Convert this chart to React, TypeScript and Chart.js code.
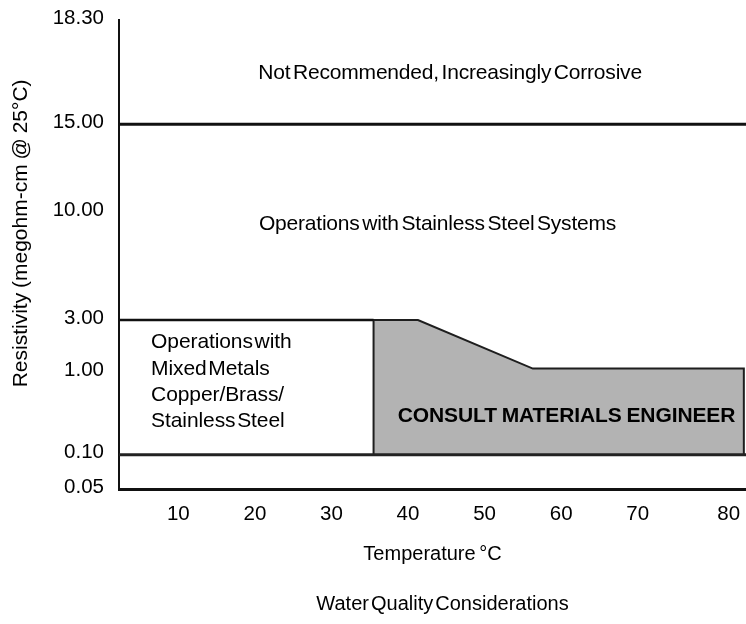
import React, { useEffect, useRef } from 'react';
import { Chart, LinearScale, registerables } from 'chart.js';

// ---------- data ----------
const temperatureTicks = [10, 20, 30, 40, 50, 60, 70, 80];
const resistivityTicks = [0.05, 0.1, 1, 3, 10, 15, 18.3];
const temperatureRange = [2.3, 84];

const corrosiveLimit = 15; // above: not recommended
const mixedMetalsLimit = 3; // top of mixed-metals zone
const lowerLimit = 0.1; // bottom of operating zones
const mixedMetalsEndTemp = 35.5;

const consultTemps = [35.5, 35.5, 41.3, 56.3, 83.5, 83.5];
const consultResistivity = [0.1, 3, 3, 1.15, 1.15, 0.1];

const zoneNotes = [
  { text: 'Not Recommended, Increasingly Corrosive', at: [45.5, 16.43], bold: false },
  { text: 'Operations with Stainless Steel Systems', at: [43.85, 8.87], bold: false },
  { text: 'CONSULT MATERIALS ENGINEER', at: [60.7, 0.461], bold: true },
];
const mixedNoteLines = ['Operations with', 'Mixed Metals', 'Copper/Brass/', 'Stainless Steel'];
const mixedNoteAnchor = [6.47, 1.92];

const xTitle = 'Temperature °C';
const yTitle = 'Resistivity (megohm-cm @ 25°C)';
const chartTitle = 'Water Quality Considerations';

// ---------- irregular axis geometry (fraction of axis length per knot) ----------
const AXIS_KNOTS: Record<string, { vals: number[]; fracs: number[] }> = {
  x: { vals: [temperatureRange[0], 10, 70, 80, temperatureRange[1]], fracs: [0, 0.0946, 0.8273, 0.9724, 1] },
  y: { vals: resistivityTicks, fracs: [0, 0.0731, 0.2484, 0.3603, 0.5891, 0.7776, 1] },
};
const AXIS_TICKS: Record<string, number[]> = { x: temperatureTicks, y: resistivityTicks };

function interp(src: number[], dst: number[], v: number) {
  const n = src.length;
  let i = 0;
  if (v <= src[0]) i = 0;
  else if (v >= src[n - 1]) i = n - 2;
  else {
    while (i < n - 2 && v > src[i + 1]) i++;
  }
  const t = (v - src[i]) / (src[i + 1] - src[i]);
  return dst[i] + t * (dst[i + 1] - dst[i]);
}

class PiecewiseScale extends LinearScale {
  static id = 'piecewise';
  static defaults = {};
  buildTicks() {
    return (AXIS_TICKS[(this as any).id] || []).map((v) => ({ value: v }));
  }
  getPixelForValue(value: any) {
    if (value === null || value === undefined || isNaN(value)) return NaN;
    const k = AXIS_KNOTS[(this as any).id];
    return (this as any).getPixelForDecimal(interp(k.vals, k.fracs, value));
  }
  getValueForPixel(pixel: number) {
    const k = AXIS_KNOTS[(this as any).id];
    return interp(k.fracs, k.vals, (this as any).getDecimalForPixel(pixel));
  }
}

const FONT = '"Liberation Sans", Arial, Helvetica, sans-serif';
const INK = '#000000';

type TextOpts = {
  size: number;
  bold?: boolean;
  align: string;
  ls: number;
  ws: number;
  rotate?: number;
};

const textPlugin = {
  id: 'zoneText',
  beforeDraw(chart: any) {
    const ctx = chart.ctx as any;
    ctx.wordSpacing = '0px';
    ctx.letterSpacing = '0px';
  },
  afterDatasetsDraw(chart: any) {
    const ctx = chart.ctx as any;
    const x = chart.scales.x;
    const y = chart.scales.y;
    const draw = (text: string, px: number, py: number, o: TextOpts) => {
      ctx.save();
      ctx.font = `${o.bold ? 'bold ' : ''}${o.size}px ${FONT}`;
      ctx.fillStyle = INK;
      ctx.textAlign = o.align;
      ctx.textBaseline = 'alphabetic';
      ctx.wordSpacing = `${o.ws}px`;
      ctx.letterSpacing = `${o.ls}px`;
      ctx.translate(px, py);
      if (o.rotate) ctx.rotate(o.rotate);
      ctx.fillText(text, 0, 0);
      ctx.restore();
    };
    zoneNotes.forEach((n) => {
      draw(n.text, x.getPixelForValue(n.at[0]), y.getPixelForValue(n.at[1]), {
        size: 21,
        bold: n.bold,
        align: 'center',
        ls: n.bold ? -0.1 : -0.2,
        ws: n.bold ? -1 : -3,
      });
    });
    const mx = x.getPixelForValue(mixedNoteAnchor[0]);
    const my = y.getPixelForValue(mixedNoteAnchor[1]);
    mixedNoteLines.forEach((line, i) => {
      draw(line, mx, my + i * 26.2, { size: 21, align: 'left', ls: -0.1, ws: -4 });
    });
    const ca = chart.chartArea;
    draw(xTitle, (ca.left + ca.right) / 2, ca.bottom + 71, { size: 20, align: 'center', ls: 0, ws: -2 });
    draw(chartTitle, (ca.left + ca.right) / 2 + 10, ca.bottom + 121, { size: 20, align: 'center', ls: 0, ws: -3.5 });
    draw(yTitle, 26.7, ca.top + 0.455 * (ca.bottom - ca.top), {
      size: 21,
      align: 'center',
      ls: 0,
      ws: -1,
      rotate: -Math.PI / 2,
    });
  },
};

const hLine = (yv: number, x0: number, x1: number, width: number, color: string) => ({
  data: [
    { x: x0, y: yv },
    { x: x1, y: yv },
  ],
  borderColor: color,
  borderWidth: width,
  pointRadius: 0,
  fill: false,
  tension: 0,
  borderCapStyle: 'butt',
});

export default function App() {
  const ref = useRef<HTMLCanvasElement>(null);
  useEffect(() => {
    Chart.register(...registerables, PiecewiseScale as any);
    const datasets: any[] = [
      hLine(corrosiveLimit, temperatureRange[0], temperatureRange[1], 3, '#111111'),
      hLine(lowerLimit, temperatureRange[0], temperatureRange[1], 3, '#222222'),
      hLine(mixedMetalsLimit, temperatureRange[0], mixedMetalsEndTemp, 2.5, '#111111'),
      {
        data: consultTemps.map((t, i) => ({ x: t, y: consultResistivity[i] })),
        borderColor: '#1e1e1e',
        borderWidth: 2,
        backgroundColor: '#b3b3b3',
        fill: { value: lowerLimit },
        pointRadius: 0,
        tension: 0,
        borderJoinStyle: 'miter',
      },
    ];
    const tickFont = { family: FONT, size: 20.5 };
    const chart = new Chart(ref.current as HTMLCanvasElement, {
      type: 'line',
      data: { datasets },
      plugins: [textPlugin as any],
      options: {
        animation: false,
        responsive: false,
        events: [],
        layout: { padding: { top: 20, left: 0, right: 0, bottom: 0 } },
        plugins: {
          legend: { display: false },
          tooltip: { enabled: false },
          title: { display: false },
        },
        scales: {
          x: {
            type: 'piecewise' as any,
            min: temperatureRange[0],
            max: temperatureRange[1],
            grid: { display: false, drawTicks: false },
            border: { display: true, color: '#111111', width: 3 },
            ticks: {
              autoSkip: false,
              maxRotation: 0,
              minRotation: 0,
              padding: 13,
              color: INK,
              font: tickFont,
              callback: (v: any) => String(v),
            },
            afterFit: (s: any) => {
              s.height = 135;
              s.paddingLeft = 0;
              s.paddingRight = 0;
            },
          } as any,
          y: {
            type: 'piecewise' as any,
            min: resistivityTicks[0],
            max: resistivityTicks[resistivityTicks.length - 1],
            grid: { display: false, drawTicks: false },
            border: { display: true, color: '#111111', width: 2 },
            ticks: {
              autoSkip: false,
              padding: 15,
              labelOffset: -2,
              color: INK,
              font: tickFont,
              callback: (v: any) => Number(v).toFixed(2),
            },
            afterFit: (s: any) => {
              s.width = 119;
              s.paddingTop = 0;
              s.paddingBottom = 0;
            },
          } as any,
        },
      },
    });
    return () => chart.destroy();
  }, []);
  return (
    <div style={{ position: 'absolute', left: 0, top: 0, width: 746, height: 624, background: '#fff' }}>
      <canvas ref={ref} width={746} height={624} style={{ display: 'block' }} />
    </div>
  );
}
